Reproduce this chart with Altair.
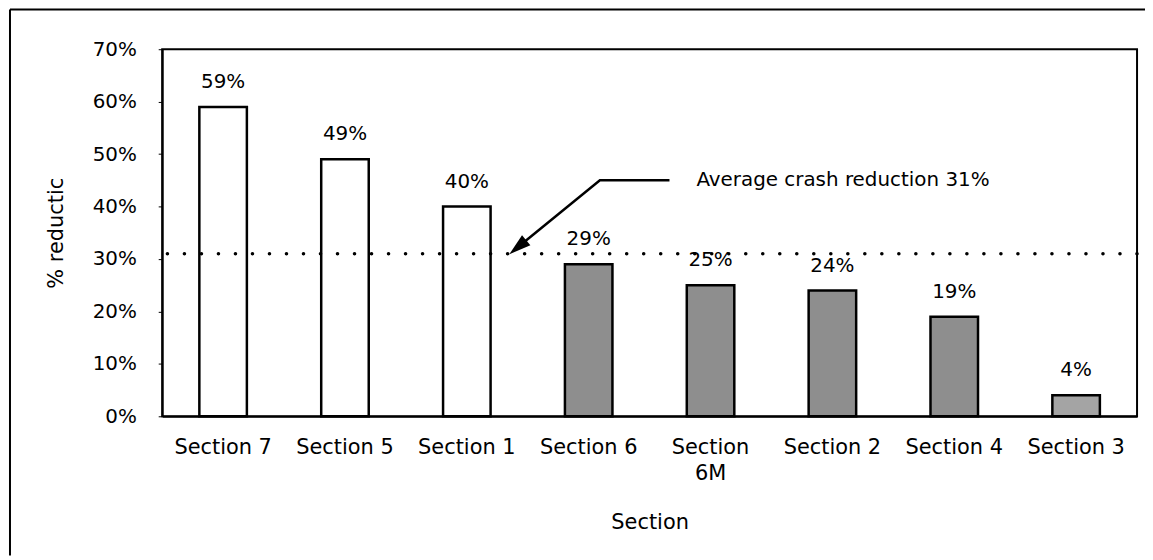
import altair as alt
import pandas as pd

# ---- data ----
sections = ["Section 7", "Section 5", "Section 1", "Section 6",
            "Section 6M", "Section 2", "Section 4", "Section 3"]
reduction = [0.59, 0.49, 0.40, 0.29, 0.25, 0.24, 0.19, 0.04]
groups = ["high", "high", "high", "low", "low", "low", "low", "min"]
average = [0.31]

# annotation arrow (x in band units 0..8, y in % reduction)
arrow_x = [4.163, 3.592, 2.918]
arrow_y = [0.45, 0.45, 0.3225]
head_x = [2.918]
head_y = [0.3225]
note_x = [4.384]
note_y = [0.45]
note_text = ["Average crash reduction 31%"]

FONT = "DejaVu Sans"

bars_df = pd.DataFrame({"section": sections, "v": reduction, "group": groups})
avg_df = pd.DataFrame({"v": average})
arrow_df = pd.DataFrame({"x": arrow_x, "v": arrow_y, "o": list(range(len(arrow_x)))})
head_df = pd.DataFrame({"x": head_x, "v": head_y})
note_df = pd.DataFrame({"x": note_x, "v": note_y, "t": note_text})
one_df = pd.DataFrame({"a": [0]})

yaxis = alt.Axis(values=[0, 0.1, 0.2, 0.3, 0.4, 0.5, 0.6, 0.7], format=".0%",
                 title="% reductic", grid=False)
yscale = alt.Scale(domain=[0, 0.7], nice=False, zero=True)


def yenc():
    return alt.Y("v:Q", scale=yscale, axis=yaxis)


xq = alt.X("x:Q", scale=alt.Scale(domain=[0, 8], nice=False, zero=False), axis=None)

xband = alt.X(
    "section:N", sort=sections,
    scale=alt.Scale(paddingInner=0.61, paddingOuter=0.305),
    axis=alt.Axis(
        title="Section", labelAngle=0, tickSize=0, labelPadding=20,
        labelExpr="datum.value == 'Section 6M' ? ['Section', '6M'] : datum.value",
        labelLineHeight=27, labelLimit=0, titlePadding=28,
    ),
)

bars = alt.Chart(bars_df).mark_bar(stroke="black", strokeWidth=2.5).encode(
    x=xband,
    y=yenc(),
    color=alt.Color("group:N", scale=alt.Scale(domain=["high", "low", "min"],
                                               range=["#ffffff", "#8e8e8e", "#a4a4a4"]),
                    legend=None),
)

labels = alt.Chart(bars_df).mark_text(dy=-25, fontSize=20, font=FONT, color="black",
                                      baseline="middle").encode(
    x=xband,
    y=yenc(),
    text=alt.Text("v:Q", format=".0%"),
)

avg_rule = alt.Chart(avg_df).mark_rule(color="black", strokeDash=[0.1, 17],
                                       strokeCap="round", strokeWidth=3.5).encode(y=yenc())

main = alt.layer(bars, labels, avg_rule)

arrow_line = alt.Chart(arrow_df).mark_line(color="black", strokeWidth=2.5).encode(
    x=xq, y=yenc(), order="o:O")

arrow_head = alt.Chart(head_df).mark_point(
    shape="M0,-1L0.6,1L-0.6,1Z", filled=True, color="black", opacity=1,
    size=484, angle=230.5, strokeWidth=0).encode(x=xq, y=yenc())

note = alt.Chart(note_df).mark_text(align="left", baseline="middle", fontSize=20,
                                    font=FONT, color="black").encode(
    x=xq, y=yenc(), text="t:N")

annot = alt.layer(arrow_line, arrow_head, note)

frame_left = alt.Chart(one_df).mark_rule(color="black", strokeWidth=2).encode(
    x=alt.value(-153), y=alt.value(-40), y2=alt.value(509))
frame_top = alt.Chart(one_df).mark_rule(color="black", strokeWidth=2).encode(
    x=alt.value(-153), x2=alt.value(990), y=alt.value(-40))

chart = alt.layer(
    main, annot, frame_left, frame_top
).resolve_scale(x="independent").properties(
    width=980, height=369, autosize="none",
    padding={"left": 155, "top": 40, "right": 8, "bottom": 140},
).configure_view(
    stroke="black", strokeWidth=2,
).configure_axis(
    labelFont=FONT, titleFont=FONT, labelColor="black", titleColor="black",
    domainColor="black", domainWidth=2, tickColor="black",
    titleFontWeight="normal",
).configure_axisY(
    labelFontSize=20, titleFontSize=21, tickSize=4, labelPadding=22, titlePadding=26,
).configure_axisX(
    labelFontSize=21, titleFontSize=21,
)

chart.save("out.html", embed_options={"renderer": "svg", "actions": False})
